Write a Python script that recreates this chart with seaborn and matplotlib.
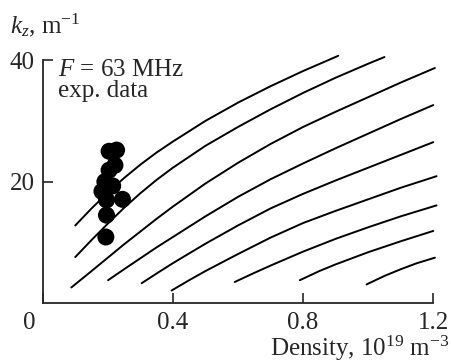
import pandas as pd
import matplotlib
matplotlib.use('Agg')
import matplotlib.pyplot as plt
from matplotlib.transforms import ScaledTranslation
import seaborn as sns

# Curves: density (1e19 m^-3) vs k_z (m^-1)
c1_x = [0.10, 0.15, 0.20, 0.25, 0.30, 0.35, 0.40, 0.50, 0.60, 0.70, 0.80, 0.908]
c1_k = [12.8, 15.6, 18.2, 20.6, 22.8, 24.8, 26.6, 30.0, 33.0, 35.7, 38.2, 40.7]
c2_x = [0.10, 0.15, 0.20, 0.25, 0.30, 0.35, 0.40, 0.50, 0.60, 0.70, 0.80, 0.90, 1.0, 1.05]
c2_k = [7.6, 10.4, 13.1, 15.7, 18.1, 20.3, 22.3, 25.9, 29.0, 31.9, 34.6, 37.1, 39.4, 40.5]
c3_x = [0.088, 0.15, 0.20, 0.25, 0.30, 0.35, 0.40, 0.50, 0.60, 0.70, 0.80, 0.90, 1.0, 1.1, 1.205]
c3_k = [2.6, 5.3, 7.5, 9.7, 11.8, 13.9, 15.9, 19.7, 23.1, 26.2, 29.0, 31.5, 33.9, 36.3, 38.7]
c4_x = [0.201, 0.25, 0.30, 0.35, 0.40, 0.50, 0.60, 0.70, 0.80, 0.90, 1.0, 1.1, 1.2]
c4_k = [3.8, 5.6, 7.4, 9.2, 10.9, 14.3, 17.5, 20.4, 23.0, 25.5, 27.9, 30.3, 32.6]
c5_x = [0.304, 0.35, 0.40, 0.50, 0.60, 0.70, 0.80, 0.90, 1.0, 1.1, 1.2]
c5_k = [3.3, 4.9, 6.6, 9.8, 12.8, 15.6, 18.0, 20.2, 22.3, 24.4, 26.5]
c6_x = [0.396, 0.45, 0.50, 0.60, 0.70, 0.80, 0.90, 1.0, 1.1, 1.21]
c6_k = [2.1, 3.8, 5.3, 8.1, 10.8, 13.2, 15.2, 17.1, 19.0, 20.9]
c7_x = [0.59, 0.65, 0.70, 0.80, 0.90, 1.0, 1.1, 1.21]
c7_k = [3.5, 5.0, 6.2, 8.5, 10.6, 12.5, 14.3, 16.1]
c8_x = [0.79, 0.85, 0.90, 1.0, 1.1, 1.2]
c8_k = [3.8, 5.3, 6.4, 8.4, 10.2, 11.9]
c9_x = [0.995, 1.05, 1.10, 1.15, 1.205]
c9_k = [3.1, 4.5, 5.6, 6.6, 7.5]

# experimental points, F = 63 MHz
exp_x = [0.204, 0.227, 0.222, 0.204, 0.191, 0.182, 0.215, 0.196, 0.245, 0.196, 0.194]
exp_k = [25.0, 25.2, 22.7, 21.9, 20.0, 18.4, 19.3, 17.0, 17.1, 14.5, 10.9]

x_ticks = [0, 0.4, 0.8, 1.2]
x_labels = ['0', '0.4', '0.8', '1.2']
y_ticks = [20, 40]

curves = [(c1_x, c1_k), (c2_x, c2_k), (c3_x, c3_k), (c4_x, c4_k), (c5_x, c5_k),
          (c6_x, c6_k), (c7_x, c7_k), (c8_x, c8_k), (c9_x, c9_k)]
rows = []
for i, (xs, ks) in enumerate(curves):
    for x, k in zip(xs, ks):
        rows.append({'curve': i, 'density': x, 'kz': k})
lines = pd.DataFrame(rows)
dots = pd.DataFrame({'density': exp_x, 'kz': exp_k})

sns.set_style('ticks')
plt.rcParams['font.family'] = ['Liberation Serif', 'DejaVu Serif']
plt.rcParams['mathtext.fontset'] = 'custom'
plt.rcParams['mathtext.rm'] = 'Liberation Serif'
plt.rcParams['mathtext.it'] = 'Liberation Serif:italic'

FS = 18
fig = plt.figure(figsize=(4.51, 3.63), dpi=100)
ax = fig.add_axes([0.0947, 0.1645, 0.866, 0.670])

sns.lineplot(data=lines, x='density', y='kz', units='curve', estimator=None,
             sort=False, color='black', lw=1.4, ax=ax, clip_on=False)
sns.scatterplot(data=dots, x='density', y='kz', color='black', s=150,
                edgecolor='none', ax=ax, zorder=3)

ax.set_xlim(0, 1.2)
ax.set_ylim(0, 40)
ax.set_xticks(x_ticks)
ax.set_xticklabels(x_labels)
ax.set_yticks(y_ticks)
ax.set_xlabel('')
ax.set_ylabel('')
ax.tick_params(direction='in', length=7, width=1.2, labelsize=FS, pad=6)
ax.tick_params(axis='y', pad=6)
for s in ['top', 'right']:
    ax.spines[s].set_visible(False)
for s in ['left', 'bottom']:
    ax.spines[s].set_linewidth(1.3)

# origin label sits left of the axis corner
lab0 = ax.get_xticklabels()[0]
lab0.set_transform(lab0.get_transform() + ScaledTranslation(-0.13, 0, fig.dpi_scale_trans))

ax.text(0.038, 0.934, '$F$ = 63 MHz', transform=ax.transAxes, fontsize=FS,
        ha='left', va='baseline')
ax.text(0.038, 0.848, 'exp. data', transform=ax.transAxes, fontsize=FS,
        ha='left', va='baseline')

fig.text(10 / 451, 1 - 33 / 363, '$k_z$, m$^{-1}$', fontsize=FS, ha='left', va='baseline')
fig.text(449 / 451, 1 - 356 / 363, 'Density, 10$^{19}$ m$^{-3}$', fontsize=FS,
         ha='right', va='baseline')

fig.savefig('out.png', dpi=100)
